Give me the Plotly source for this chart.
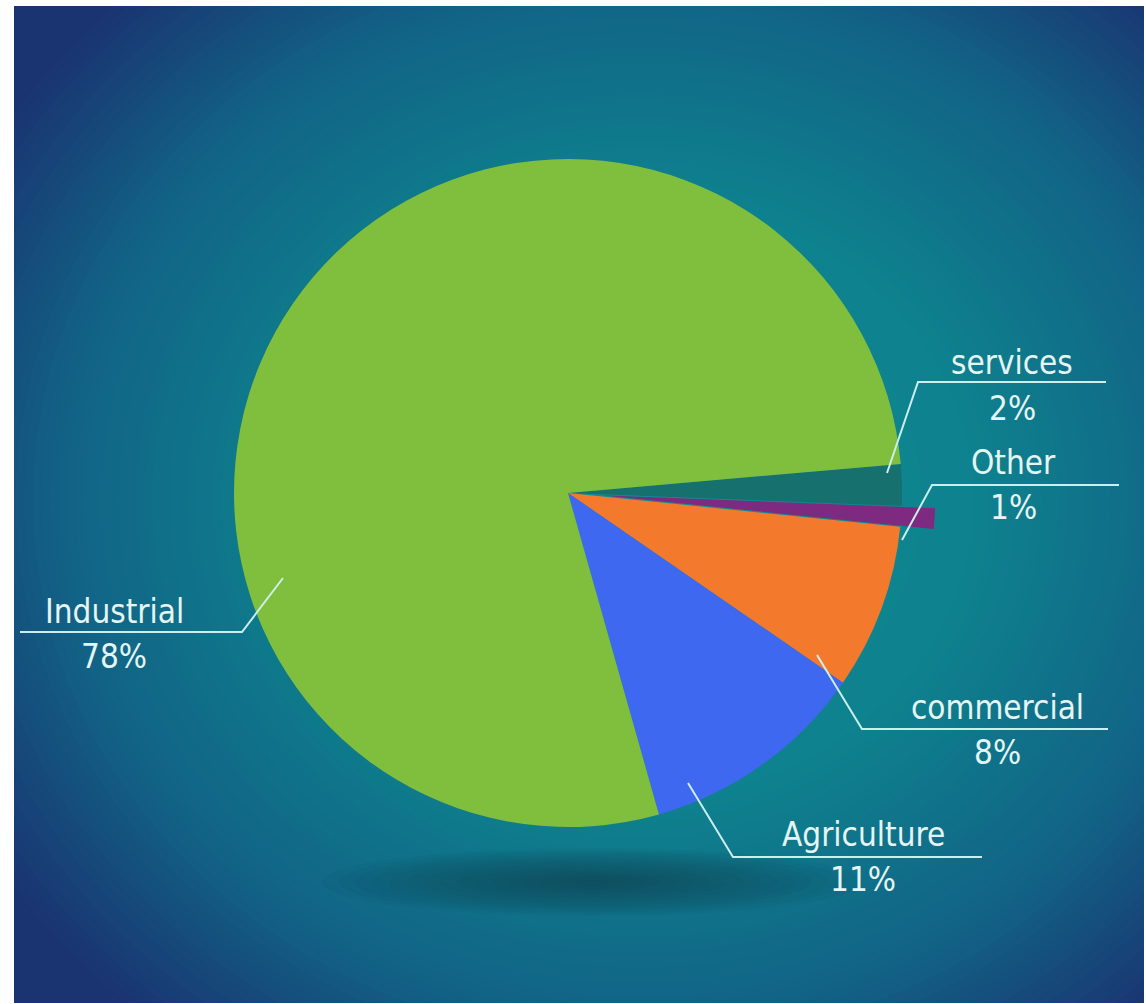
import plotly.graph_objects as go

# ---------------- data ----------------
labels = ["services", "Other", "commercial", "Agriculture", "Industrial"]
values = [2, 1, 8, 11, 78]

# ---------------- styles ----------------
W, H = 1146, 1004
slice_colors = ["#16706e", "#7d2a80", "#f37a2c", "#3e68f0", "#80be3e"]
pulls = [0, 0.1, 0, 0, 0]
FONT = "DejaVu Sans Condensed, Roboto, sans-serif"
TXT = "#e4f5f3"
LINE = "#cdeeee"

# label anchor layout (pixels): (text x, name y, value y, leader polyline)
label_layout = {
    "services":    (1012, 362, 408, [(1106, 382), (918, 382), (887, 473)]),
    "Other":       (1013, 462, 507, [(1119, 485), (932, 485), (902, 540)]),
    "commercial":  (997, 707, 752, [(1108, 729), (862, 729), (817, 655)]),
    "Agriculture": (863, 834, 879, [(982, 857), (733, 857), (688, 783)]),
    "Industrial":  (114, 611, 656, [(20, 632), (242, 632), (283, 578)]),
}


def px(x):
    return x / W


def py(y):
    return 1 - y / H


def hexmix(c1, c2, t):
    a = [int(c1[i:i + 2], 16) for i in (1, 3, 5)]
    b = [int(c2[i:i + 2], 16) for i in (1, 3, 5)]
    return "#%02x%02x%02x" % tuple(round(a[k] + (b[k] - a[k]) * t) for k in range(3))


shapes = []
shapes.append(dict(type="rect", xref="paper", yref="paper", x0=px(14), x1=px(1144),
                   y0=py(1003), y1=py(6), fillcolor="#1a3371", line=dict(width=0), layer="below"))
# radial background gradient from concentric ellipses
stops = [(0.0, "#0f9093"), (0.45, "#0e818e"), (0.75, "#126386"), (1.0, "#1a3371")]


def grad(t):
    for i in range(len(stops) - 1):
        t0, c0 = stops[i]
        t1, c1 = stops[i + 1]
        if t <= t1:
            return hexmix(c0, c1, (t - t0) / (t1 - t0))
    return stops[-1][1]


cx, cy, RX, RY = 640, 500, 770, 690
N = 90
for k in range(N):
    t = 1 - k / N
    rx, ry = RX * t, RY * t
    shapes.append(dict(type="circle", xref="paper", yref="paper",
                       x0=px(cx - rx), x1=px(cx + rx), y0=py(cy + ry), y1=py(cy - ry),
                       fillcolor=grad(t), line=dict(width=0), layer="below"))
# white frame
for (a, b, c, d) in [(0, 14, 0, H), (1144, W, 0, H), (0, W, 0, 6), (0, W, 1003, H)]:
    shapes.append(dict(type="rect", xref="paper", yref="paper", x0=px(a), x1=px(b),
                       y0=py(d), y1=py(c), fillcolor="#ffffff", line=dict(width=0), layer="below"))
# soft shadow under the pie
M = 16
for k in range(M):
    t = 1 - k / M
    shapes.append(dict(type="circle", xref="paper", yref="paper",
                       x0=px(592 - 270 * t), x1=px(592 + 270 * t),
                       y0=py(882 + 34 * t), y1=py(882 - 34 * t),
                       fillcolor="#0a4858", opacity=0.07, line=dict(width=0), layer="below"))

# leader lines
for name in labels:
    pts = label_layout[name][3]
    path = "M " + " L ".join(f"{px(x):.5f},{py(y):.5f}" for x, y in pts)
    shapes.append(dict(type="path", xref="paper", yref="paper", path=path,
                       line=dict(color=LINE, width=2), layer="above"))

annotations = []
for name, val in zip(labels, values):
    tx, ny, vy, _ = label_layout[name]
    annotations.append(dict(x=px(tx), y=py(ny), xref="paper", yref="paper", text=name,
                            showarrow=False, xanchor="center", yanchor="middle",
                            font=dict(family=FONT, size=33, color=TXT)))
    annotations.append(dict(x=px(tx), y=py(vy), xref="paper", yref="paper", text=f"{val}%",
                            showarrow=False, xanchor="center", yanchor="middle",
                            font=dict(family=FONT, size=33, color=TXT)))

R = 334
cxp, cyp = 568, 493
box = 2.2 * R
fig = go.Figure(go.Pie(
    labels=labels, values=values, sort=False, direction="clockwise", rotation=85,
    pull=pulls, textinfo="none", hoverinfo="label+percent",
    marker=dict(colors=slice_colors, line=dict(width=0)),
    domain=dict(x=[px(cxp - box / 2), px(cxp + box / 2)],
                y=[py(cyp + box / 2), py(cyp - box / 2)]),
    showlegend=False,
))
fig.update_layout(
    width=W, height=H, margin=dict(l=0, r=0, t=0, b=0),
    paper_bgcolor="#ffffff", plot_bgcolor="#ffffff",
    shapes=shapes, annotations=annotations, showlegend=False,
)
fig.write_html("out.html")
